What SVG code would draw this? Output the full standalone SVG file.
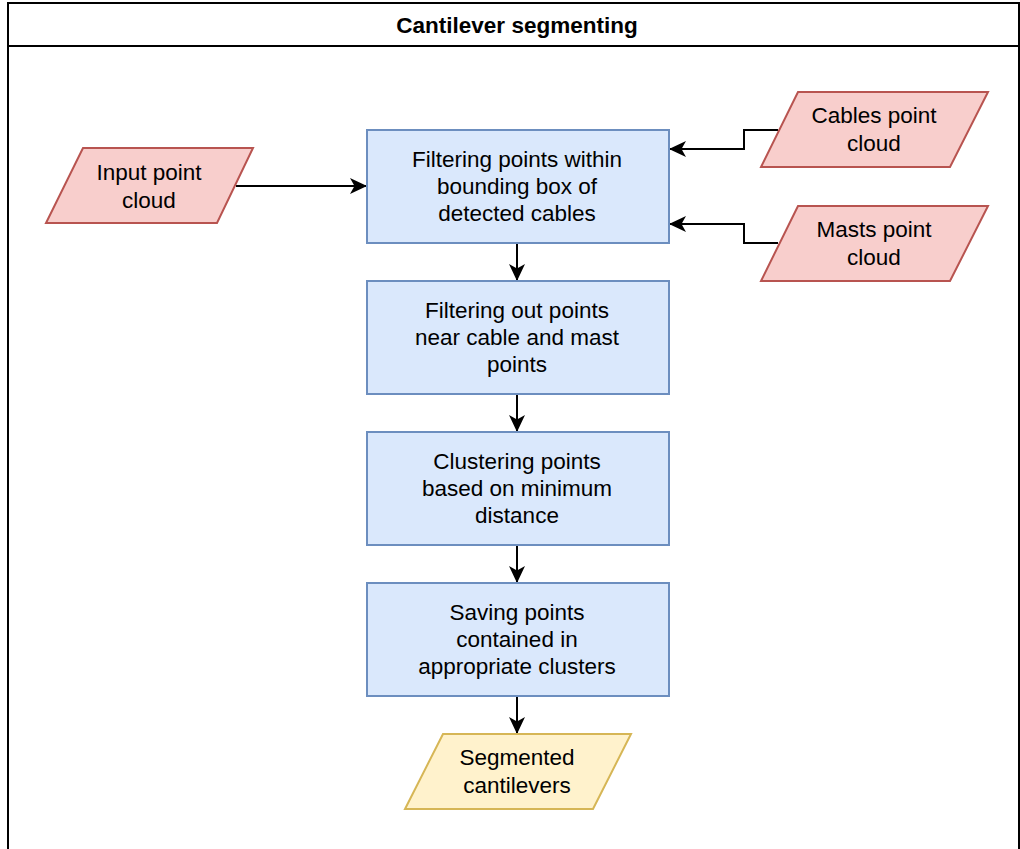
<svg xmlns="http://www.w3.org/2000/svg" width="1020" height="849" viewBox="0 0 1020 849">
<style>
.t{font-family:"Liberation Sans",Arial,sans-serif;font-size:22.5px;fill:#000;text-anchor:middle}
.box{fill:#dae8fc;stroke:#6c8ebf;stroke-width:2}
.red{fill:#f8cecc;stroke:#b85450;stroke-width:2}
.yel{fill:#fff2cc;stroke:#d6b656;stroke-width:2}
.c{fill:none;stroke:#000;stroke-width:2}
</style>
<defs>
<marker id="ah" viewBox="0 0 17 16" refX="16" refY="8" markerWidth="17" markerHeight="16" markerUnits="userSpaceOnUse" orient="auto">
<path d="M0,0 L17,8 L0,16 L4.5,8 Z" fill="#000"/>
</marker>
</defs>
<rect x="0" y="0" width="1020" height="849" fill="#fff"/>
<g id="frame">
<rect x="8" y="3" width="1011" height="860" fill="#fff" stroke="#000" stroke-width="2"/>
<line x1="8" y1="46" x2="1019" y2="46" stroke="#000" stroke-width="2"/>
<text x="517" y="33" class="t" style="font-weight:bold">Cantilever segmenting</text>
</g>
<g id="connectors">
<path class="c" d="M236,186 H366" marker-end="url(#ah)"/>
<path class="c" d="M778,130 H744 V149 H670" marker-end="url(#ah)"/>
<path class="c" d="M778,243 H744 V224 H670" marker-end="url(#ah)"/>
<path class="c" d="M517,243 V280" marker-end="url(#ah)"/>
<path class="c" d="M517,394 V431" marker-end="url(#ah)"/>
<path class="c" d="M517,545 V582" marker-end="url(#ah)"/>
<path class="c" d="M517,696 V733" marker-end="url(#ah)"/>
</g>
<g id="input">
<polygon class="red" points="83,148 253,148 217,223 46,223"/>
<text class="t" x="149" y="180">Input point</text>
<text class="t" x="149" y="208">cloud</text>
</g>
<g id="cables">
<polygon class="red" points="798,92 988,92 950,167 761,167"/>
<text class="t" x="874" y="123">Cables point</text>
<text class="t" x="874" y="151">cloud</text>
</g>
<g id="masts">
<polygon class="red" points="798,206 988,206 950,281 761,281"/>
<text class="t" x="874" y="237">Masts point</text>
<text class="t" x="874" y="265">cloud</text>
</g>
<g id="box1">
<rect class="box" x="367" y="130" width="302" height="113"/>
<text class="t" x="517" y="167">Filtering points within</text>
<text class="t" x="517" y="194">bounding box of</text>
<text class="t" x="517" y="221">detected cables</text>
</g>
<g id="box2">
<rect class="box" x="367" y="281" width="302" height="113"/>
<text class="t" x="517" y="318">Filtering out points</text>
<text class="t" x="517" y="345">near cable and mast</text>
<text class="t" x="517" y="372">points</text>
</g>
<g id="box3">
<rect class="box" x="367" y="432" width="302" height="113"/>
<text class="t" x="517" y="469">Clustering points</text>
<text class="t" x="517" y="496">based on minimum</text>
<text class="t" x="517" y="523">distance</text>
</g>
<g id="box4">
<rect class="box" x="367" y="583" width="302" height="113"/>
<text class="t" x="517" y="620">Saving points</text>
<text class="t" x="517" y="647">contained in</text>
<text class="t" x="517" y="674">appropriate clusters</text>
</g>
<g id="output">
<polygon class="yel" points="443,734 631,734 593,809 405,809"/>
<text class="t" x="517" y="765">Segmented</text>
<text class="t" x="517" y="793">cantilevers</text>
</g>
</svg>
